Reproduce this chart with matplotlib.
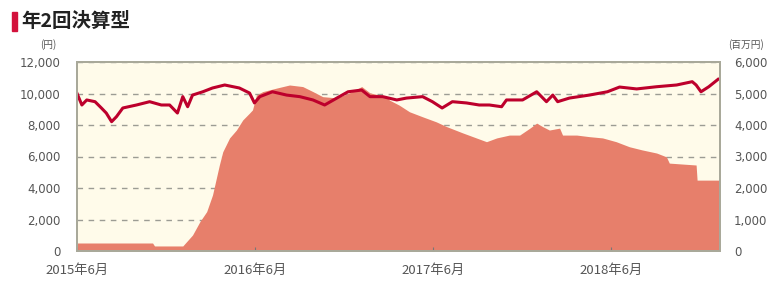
import matplotlib.pyplot as plt
import pandas as pd
from matplotlib.patches import Rectangle

plt.rcParams['font.family'] = ['Noto Sans CJK JP', 'DejaVu Sans']

# NAV per unit (円), left axis
nav_dates = ['2015-06-01', '2015-06-11', '2015-06-21', '2015-07-08', '2015-07-21', '2015-07-31',
             '2015-08-11', '2015-08-21', '2015-09-03', '2015-10-01', '2015-10-28', '2015-11-21',
             '2015-12-08', '2015-12-24', '2016-01-04', '2016-01-14', '2016-01-24', '2016-02-14',
             '2016-03-05', '2016-03-30', '2016-04-29', '2016-05-20', '2016-05-30', '2016-06-10',
             '2016-07-06', '2016-08-04', '2016-08-31', '2016-09-27', '2016-10-21', '2016-11-15',
             '2016-12-08', '2017-01-05', '2017-01-22', '2017-02-17', '2017-03-18', '2017-04-07',
             '2017-05-10', '2017-05-30', '2017-06-19', '2017-07-10', '2017-08-08', '2017-09-03',
             '2017-09-24', '2017-10-19', '2017-10-29', '2017-12-01', '2017-12-30', '2018-01-19',
             '2018-02-01', '2018-02-11', '2018-03-07', '2018-04-17', '2018-05-24', '2018-06-18',
             '2018-07-23', '2018-09-02', '2018-10-13', '2018-11-14', '2018-11-22', '2018-12-02',
             '2018-12-18', '2019-01-06']
nav_values = [10010, 9270, 9590, 9480, 9080, 8760,
              8210, 8530, 9080, 9270, 9480, 9270,
              9270, 8760, 9800, 9160, 9900, 10110,
              10350, 10540, 10350, 10030, 9400, 9800,
              10110, 9900, 9800, 9590, 9270, 9710,
              10110, 10220, 9800, 9800, 9590, 9710,
              9800, 9480, 9080, 9480, 9400, 9270,
              9270, 9160, 9590, 9590, 10110, 9480,
              9900, 9480, 9710, 9900, 10110, 10410,
              10290, 10430, 10540, 10750, 10540, 10110,
              10430, 10900]

# Net assets (百万円), right axis
asset_dates = ['2015-06-01', '2015-11-03', '2015-11-07', '2016-01-04', '2016-01-24', '2016-02-08',
               '2016-02-22', '2016-03-05', '2016-03-19', '2016-03-26', '2016-04-09', '2016-04-23',
               '2016-05-06', '2016-05-20', '2016-05-26', '2016-06-03', '2016-06-16', '2016-07-14',
               '2016-08-10', '2016-09-06', '2016-09-27', '2016-10-17', '2016-11-15', '2016-12-11',
               '2017-01-05', '2017-01-22', '2017-02-25', '2017-03-03', '2017-03-23', '2017-04-13',
               '2017-05-10', '2017-06-07', '2017-06-28', '2017-07-31', '2017-08-28', '2017-09-18',
               '2017-10-09', '2017-11-04', '2017-11-25', '2017-12-16', '2017-12-30', '2018-01-11',
               '2018-01-25', '2018-02-15', '2018-02-21', '2018-03-22', '2018-04-17', '2018-05-14',
               '2018-06-11', '2018-07-08', '2018-08-03', '2018-09-02', '2018-09-22', '2018-09-28',
               '2018-11-22', '2018-11-24', '2019-01-10']
asset_values = [254, 254, 160, 160, 508, 930,
                1250, 1780, 2730, 3150, 3590, 3840,
                4160, 4380, 4480, 4950, 5060, 5170,
                5270, 5220, 5060, 4900, 4860, 5020,
                5220, 5020, 4900, 4790, 4630, 4420,
                4260, 4100, 3950, 3750, 3590, 3470,
                3590, 3680, 3680, 3900, 4060, 3950,
                3840, 3900, 3680, 3680, 3630, 3590,
                3470, 3310, 3210, 3110, 2990, 2790,
                2730, 2250, 2250]

tick_dates = ['2015-06-01', '2016-06-01', '2017-06-01', '2018-06-01']
tick_labels = ['2015年6月', '2016年6月', '2017年6月', '2018年6月']

nav_x = pd.to_datetime(nav_dates)
asset_x = pd.to_datetime(asset_dates)

fig = plt.figure(figsize=(7.84, 2.82), dpi=100)
ax1 = fig.add_axes([77 / 784, 31 / 282, 643 / 784, 189 / 282])
ax2 = ax1.twinx()

# area on the back axes, line on the front one
ax1.set_zorder(ax2.get_zorder() + 1)
ax1.patch.set_visible(False)
ax2.patch.set_visible(True)
ax2.patch.set_facecolor('#fffbea')

ax2.fill_between(asset_x, asset_values, 0, color='#e77f6b', linewidth=0, zorder=2)
ax2.set_ylim(0, 6000)
ax2.set_yticks(range(0, 6001, 1000))
ax2.yaxis.grid(True, linestyle=(0, (4, 4)), color='#9c9c94', linewidth=1.0)
ax2.set_axisbelow(True)

ax1.plot(nav_x, nav_values, color='#bd002c', linewidth=2.2, solid_joinstyle='round')
ax1.set_ylim(0, 12000)
ax1.set_yticks(range(0, 12001, 2000))
ax1.set_xlim(pd.Timestamp('2015-06-01'), pd.Timestamp('2019-01-10'))
ax1.set_xticks(pd.to_datetime(tick_dates))
ax1.set_xticklabels(tick_labels)

fmt = lambda v, p: f'{int(v):,}'
ax1.yaxis.set_major_formatter(plt.FuncFormatter(fmt))
ax2.yaxis.set_major_formatter(plt.FuncFormatter(fmt))

for ax in (ax1, ax2):
    for s in ax.spines.values():
        s.set_color('#a9a99a')
        s.set_linewidth(1.4)

ax1.tick_params(axis='y', length=0, pad=12, labelsize=8.5, labelcolor='#555555')
ax2.tick_params(axis='y', length=0, pad=10, labelsize=8.5, labelcolor='#555555')
ax1.tick_params(axis='x', direction='in', length=3, color='#777777', pad=9,
                labelsize=9.5, labelcolor='#555555')
for lbl in ax1.get_yticklabels() + ax2.get_yticklabels():
    lbl.set_family('DejaVu Sans')

# title with red marker
fig.patches.append(Rectangle((12 / 784, 1 - 31 / 282), 4.5 / 784, 19 / 282,
                             transform=fig.transFigure, color='#d3123c'))
fig.text(21 / 784, 1 - 21 / 282, '年2回決算型', fontsize=14, fontweight='bold',
         va='center', ha='left', color='#222222')

fig.text(48 / 784, 1 - 45 / 282, '(円)', fontsize=7, ha='center', va='center', color='#555555')
fig.text(728 / 784, 1 - 45 / 282, '(百万円)', fontsize=7, ha='left', va='center', color='#555555')

fig.savefig('out.png', dpi=100)
